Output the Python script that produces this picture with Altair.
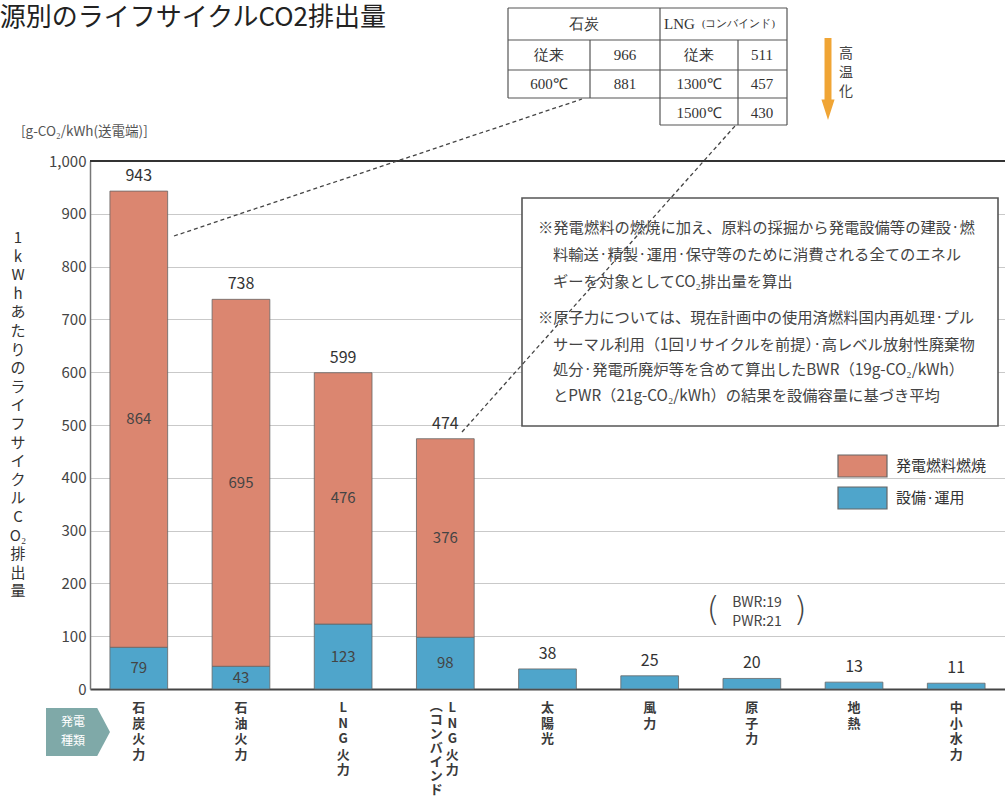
import altair as alt
import pandas as pd

# ---------------- data ----------------
categories = ["石炭火力", "石油火力", "LNG火力", "LNG火力(コンバインド)",
              "太陽光", "風力", "原子力", "地熱", "中小水力"]
fuel_values = [864, 695, 476, 376, 0, 0, 0, 0, 0]
equip_values = [79, 43, 123, 98, 38, 25, 20, 13, 11]
totals = [943, 738, 599, 474, 38, 25, 20, 13, 11]
series_names = ["発電燃料燃焼", "設備·運用"]
vertical_labels = ["石炭火力", "石油火力", "LNG火力", "LNG火力",
                   "太陽光", "風力", "原子力", "地熱", "中小水力"]
y_ticks = [0, 100, 200, 300, 400, 500, 600, 700, 800, 900, 1000]

table_header = ["石炭", "LNG"]
table_rows_coal = [("従来", "966"), ("600℃", "881")]
table_rows_lng = [("従来", "511"), ("1300℃", "457"), ("1500℃", "430")]

note_lines = [
    "※発電燃料の燃焼に加え、原料の採掘から発電設備等の建設·燃",
    "料輸送·精製·運用·保守等のために消費される全てのエネル",
    "ギーを対象としてCO₂排出量を算出",
    "※原子力については、現在計画中の使用済燃料国内再処理·プル",
    "サーマル利用（1回リサイクルを前提）·高レベル放射性廃棄物",
    "処分·発電所廃炉等を含めて算出したBWR（19g-CO₂/kWh）",
    "とPWR（21g-CO₂/kWh）の結果を設備容量に基づき平均",
]

# ---------------- styling ----------------
FONT = "Noto Sans CJK JP"
SERIF = "Liberation Serif"
C_FUEL = "#DB8670"
C_EQUIP = "#4FA5CB"
TXT = "#333333"
OX, OY = 90, 161          # plot origin in page pixels
W, H = 915, 528

def px(x):
    return x - OX

def py(y):
    return y - OY

# ---------------- bars ----------------
rows = []
for c, f, e in zip(categories, fuel_values, equip_values):
    rows.append({"cat": c, "series": series_names[1], "value": e, "ord": 0})
    if f > 0:
        rows.append({"cat": c, "series": series_names[0], "value": f, "ord": 1})
bars_df = pd.DataFrame(rows)

xenc = alt.X("cat:N", sort=categories,
             scale=alt.Scale(paddingInner=0.435, paddingOuter=0.195),
             axis=alt.Axis(labels=False, ticks=False, title=None, domain=True,
                           domainColor="#444", domainWidth=2, grid=False))
color_scale = alt.Scale(domain=series_names, range=[C_FUEL, C_EQUIP])

bars = alt.Chart(bars_df).mark_bar(stroke="#666", strokeWidth=0.8).encode(
    x=xenc,
    y=alt.Y("value:Q", stack="zero",
            scale=alt.Scale(domain=[0, 1000], nice=False),
            axis=alt.Axis(values=y_ticks, format=",d", title=None,
                          labelFont=FONT, labelFontSize=15, labelColor="#444",
                          labelPadding=4, ticks=False, domainColor="#777",
                          domainWidth=1.5, gridColor="#c9c9c9", gridWidth=1)),
    color=alt.Color("series:N", scale=color_scale, legend=None),
    order=alt.Order("ord:Q"),
)

# total labels
tot_df = pd.DataFrame({"cat": categories, "total": totals})
tot_text = alt.Chart(tot_df).mark_text(font=FONT, fontSize=16, color=TXT, dy=-15).encode(
    x=alt.X("cat:N", sort=categories), y=alt.Y("total:Q"), text=alt.Text("total:Q"))

# inside labels
in_rows = []
for c, f, e in zip(categories[:4], fuel_values[:4], equip_values[:4]):
    in_rows.append({"cat": c, "mid": e / 2, "lab": e})
    in_rows.append({"cat": c, "mid": e + f / 2, "lab": f})
in_df = pd.DataFrame(in_rows)
in_text = alt.Chart(in_df).mark_text(font=FONT, fontSize=15, color="#444").encode(
    x=alt.X("cat:N", sort=categories), y=alt.Y("mid:Q"), text=alt.Text("lab:Q"))

# top frame line at 1000
top_rule = alt.Chart(pd.DataFrame({"v": [1000]})).mark_rule(color="#333", strokeWidth=2.2).encode(
    y="v:Q", x=alt.value(0), x2=alt.value(W))

# category labels (vertical text)
cat_df = pd.DataFrame({"cat": categories,
                       "lab": ["\n".join(list(s)) for s in vertical_labels],
                       "yy": [py(702)] * len(categories),
                       "shift": [0, 0, 0, 7, 0, 0, 0, 0, 0]})
cat_text = alt.Chart(cat_df).mark_text(font=FONT, fontSize=13, fontWeight="bold",
                                       color="#3a3a3a", baseline="top",
                                       lineBreak="\n", lineHeight=15.5).encode(
    x=alt.X("cat:N", sort=categories), y=alt.Y("yy:Q", scale=None), text="lab:N")
cat_text_shift = None
combo_df = pd.DataFrame({"cat": [categories[3]], "lab": ["\n".join(list("︵コンバインド"))],
                         "yy": [py(700)]})
combo_text = alt.Chart(combo_df).mark_text(font=FONT, fontSize=13, fontWeight="bold",
                                           color="#3a3a3a", baseline="top", dx=-9,
                                           lineBreak="\n", lineHeight=14).encode(
    x=alt.X("cat:N", sort=categories), y=alt.Y("yy:Q", scale=None), text="lab:N")
# split the combined-cycle label: main column shifted right
cat_main = alt.Chart(cat_df[cat_df["shift"] == 0]).mark_text(
    font=FONT, fontSize=13, fontWeight="bold", color="#3a3a3a", baseline="top",
    lineBreak="\n", lineHeight=15.5).encode(
    x=alt.X("cat:N", sort=categories), y=alt.Y("yy:Q", scale=None), text="lab:N")
cat_combo = alt.Chart(cat_df[cat_df["shift"] != 0]).mark_text(
    font=FONT, fontSize=13, fontWeight="bold", color="#3a3a3a", baseline="top", dx=7,
    lineBreak="\n", lineHeight=15.5).encode(
    x=alt.X("cat:N", sort=categories), y=alt.Y("yy:Q", scale=None), text="lab:N")

# ---------------- free annotations (pixel positioned) ----------------
def texts(df, **kw):
    return alt.Chart(df).mark_text(**kw).encode(
        x=alt.X("x:Q", scale=None, axis=None),
        y=alt.Y("y:Q", scale=None, axis=None),
        text="t:N")

title = texts(pd.DataFrame({"x": [px(386)], "y": [py(18)], "t": ["電源別のライフサイクルCO2排出量"]}),
              font=FONT, fontSize=26, color="#222", align="right", baseline="middle")

unit = texts(pd.DataFrame({"x": [px(21)], "y": [py(132)], "t": ["[g-CO₂/kWh(送電端)]"]}),
             font=FONT, fontSize=13.5, color="#555", align="left", baseline="middle")

ytitle_chars = list("1kWhあたりのライフサイクルC") + ["O₂", "排", "出", "量"]
ytitle = texts(pd.DataFrame({"x": [px(18)], "y": [py(231)], "t": ["\n".join(ytitle_chars)]}),
               font=FONT, fontSize=15, color="#333", align="center", baseline="top",
               lineBreak="\n", lineHeight=18.6)

# note box
box = alt.Chart(pd.DataFrame({"x": [px(522)], "x2": [px(998)], "y": [py(198)], "y2": [py(426)]})).mark_rect(
    fill="white", stroke="#555", strokeWidth=1.6).encode(
    x=alt.X("x:Q", scale=None, axis=None), x2="x2:Q",
    y=alt.Y("y:Q", scale=None, axis=None), y2="y2:Q")
note_x = [538, 553, 553, 538, 553, 553, 553]
note_y = [228, 255, 282, 318, 345, 370, 396]
note = texts(pd.DataFrame({"x": [px(v) for v in note_x], "y": [py(v) for v in note_y], "t": note_lines}),
             font=FONT, fontSize=15.3, color="#444", align="left", baseline="middle")

# legend (custom)
leg_box = alt.Chart(pd.DataFrame({"series": series_names,
                                  "x": [px(838)] * 2, "x2": [px(887)] * 2,
                                  "y": [py(455), py(487)], "y2": [py(477), py(509)]})).mark_rect(
    stroke="#666", strokeWidth=1.2).encode(
    x=alt.X("x:Q", scale=None, axis=None), x2="x2:Q",
    y=alt.Y("y:Q", scale=None, axis=None), y2="y2:Q",
    color=alt.Color("series:N", scale=color_scale, legend=None))
leg_text = texts(pd.DataFrame({"x": [px(896)] * 2, "y": [py(466), py(498)], "t": series_names}),
                 font=FONT, fontSize=15, color="#333", align="left", baseline="middle")

# BWR / PWR note
bwr = texts(pd.DataFrame({"x": [px(757), px(757)], "y": [py(603), py(622)], "t": ["BWR:19", "PWR:21"]}),
            font=FONT, fontSize=14, color="#444", align="center", baseline="middle")
parens = texts(pd.DataFrame({"x": [px(713), px(800)], "y": [py(611), py(611)], "t": ["(", ")"]}),
               font="DejaVu Sans", fontSize=34, fontWeight=300, color="#444",
               align="center", baseline="middle")

# table grid
h_lines = [(508, 787, 8), (508, 787, 40), (508, 787, 70), (508, 787, 98), (660, 787, 125)]
v_lines = [(508, 8, 98), (590, 40, 98), (660, 8, 125), (738, 40, 125), (787, 8, 125)]
seg = [{"x": px(a), "x2": px(b), "y": py(y), "y2": py(y)} for a, b, y in h_lines] + \
      [{"x": px(x), "x2": px(x), "y": py(a), "y2": py(b)} for x, a, b in v_lines]
grid = alt.Chart(pd.DataFrame(seg)).mark_rule(color="#555", strokeWidth=1.2).encode(
    x=alt.X("x:Q", scale=None, axis=None), x2="x2:Q",
    y=alt.Y("y:Q", scale=None, axis=None), y2="y2:Q")

cell_t, cell_x, cell_y = [], [], []
cell_t += [table_header[0]]; cell_x += [584]; cell_y += [24]
for i, (a, b) in enumerate(table_rows_coal):
    cell_t += [a, b]; cell_x += [549, 625]; cell_y += [55 + 29 * i] * 2
for i, (a, b) in enumerate(table_rows_lng):
    cell_t += [a, b]; cell_x += [699, 762]; cell_y += [55 + 29 * i] * 2
table_text = texts(pd.DataFrame({"x": [px(v) for v in cell_x], "y": [py(v) for v in cell_y], "t": cell_t}),
                   font=SERIF, fontSize=15, color="#333", align="center", baseline="middle")
lng_head = texts(pd.DataFrame({"x": [px(664)], "y": [py(24)], "t": [table_header[1]]}),
                 font=SERIF, fontSize=15, color="#333", align="left", baseline="middle")
lng_sub = texts(pd.DataFrame({"x": [px(702)], "y": [py(24)], "t": ["(コンバインド)"]}),
                font=SERIF, fontSize=10.5, color="#333", align="left", baseline="middle")

# arrow + 高温化
arrow_path = "M-0.085,-1 L0.085,-1 L0.085,0.5 L0.16,0.5 L0,1 L-0.16,0.5 L-0.085,0.5 Z"
arrow = alt.Chart(pd.DataFrame({"x": [px(828)], "y": [py(79)]})).mark_point(
    shape=arrow_path, size=82 * 82, filled=True, color="#F0A535", opacity=1).encode(
    x=alt.X("x:Q", scale=None, axis=None), y=alt.Y("y:Q", scale=None, axis=None))
koon = texts(pd.DataFrame({"x": [px(846)], "y": [py(47)], "t": ["高\n温\n化"]}),
             font=FONT, fontSize=14, color="#444", align="center", baseline="top",
             lineBreak="\n", lineHeight=19)

# leader lines
lead = alt.Chart(pd.DataFrame({"x": [px(174), px(462)], "y": [py(236), py(432)],
                               "x2": [px(582), px(735)], "y2": [py(99), py(126)]})).mark_rule(
    color="#444", strokeWidth=1.3, strokeDash=[4, 3]).encode(
    x=alt.X("x:Q", scale=None, axis=None), x2="x2:Q",
    y=alt.Y("y:Q", scale=None, axis=None), y2="y2:Q")

# 発電種類 badge
badge_path = "M-1,-0.75 L0.6,-0.75 L1,0 L0.6,0.75 L-1,0.75 Z"
badge = alt.Chart(pd.DataFrame({"x": [px(78)], "y": [py(732)]})).mark_point(
    shape=badge_path, size=64 * 64, filled=True, color="#7FA9A8", opacity=1).encode(
    x=alt.X("x:Q", scale=None, axis=None), y=alt.Y("y:Q", scale=None, axis=None))
badge_text = texts(pd.DataFrame({"x": [px(73)], "y": [py(722)], "t": ["発電\n種類"]}),
                   font=FONT, fontSize=12, color="white", align="center", baseline="middle",
                   lineBreak="\n", lineHeight=19)

chart = alt.layer(
    bars, top_rule, tot_text, in_text, cat_main, cat_combo, combo_text,
    box, note, lead, leg_box, leg_text, bwr, parens,
    grid, table_text, lng_head, lng_sub, arrow, koon,
    title, unit, ytitle, badge, badge_text,
).properties(
    width=W, height=H,
    autosize=alt.AutoSizeParams(type="none"),
    padding={"left": OX, "top": OY, "right": 0, "bottom": 797 - OY - H},
    background="white",
).configure_view(stroke=None)

chart.save("out.html", embed_options={"renderer": "svg", "actions": False})
